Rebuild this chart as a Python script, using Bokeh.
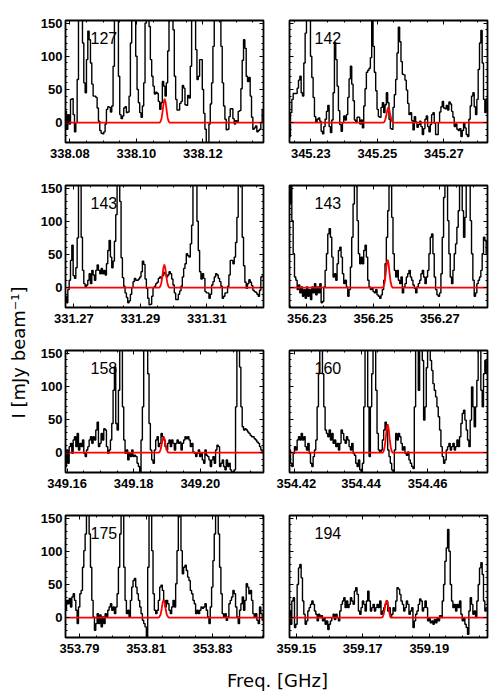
import numpy as np
from bokeh.plotting import figure
from bokeh.models import Range1d, LinearAxis, FixedTicker, PrintfTickFormatter, Label, Spacer
from bokeh.layouts import row, column
from bokeh.embed import file_html
from bokeh.resources import INLINE

# ---------------- data ----------------
DF_GHZ = 0.0004                      # channel width of the sampled spectra
Y_LIM = (-30, 154)
Y_TICKS = [0, 50, 100, 150]
MODEL_DNU_MHZ = [-1.5, -1.2, -0.9, -0.6, -0.3, 0.0, 0.3, 0.6, 0.9, 1.2, 1.5]

P1_NAME = "127"
P1_XLIM = (338.0787, 338.1382)
P1_F0 = 338.0788
P1_TICKS = [338.08, 338.10, 338.12]
P1_I = [17, -10, 12, -2, 35, 36, 12, -14, 0, 65,
        170, 210, 200, 120, 60, 45, 95, 138, 125, 90,
        58, 40, 40, 38, 22, 2, -12, -16, -17, -14,
        -2, 20, 24, 23, 16, 25, 85, 170, 200, 170,
        70, 12, 6, 10, 22, 24, 15, 16, 40, 120,
        200, 215, 200, 100, 50, 30, 15, 8, 25, 60,
        150, 220, 205, 145, 95, 70, 55, 43, 46, 44,
        32, 20, 30, 62, 55, 40, 60, 108, 180, 212,
        200, 140, 70, 35, 19, 19, 29, 32, 56, 52,
        27, 26, 41, 37, 85, 175, 220, 170, 110, 65,
        70, 95, 95, 50, 14, -10, -32, -30, -2, 28,
        60, 115, 180, 215, 220, 205, 170, 115, 60, 25,
        5, -11, -10, 9, 21, 21, 6, -2, 3, 1,
        17, 18, 51, 94, 125, 112, 70, 62, 68, 40,
        8, -10, -8, -5, -14, -12, -10, 0, 20]
P1_MODEL_NU = 338.1085
P1_MODEL = [0, 2, 7, 18, 30, 36, 30, 18, 7, 2, 0]

P2_NAME = "142"
P2_XLIM = (345.2236, 345.2831)
P2_F0 = 345.2237
P2_TICKS = [345.23, 345.25, 345.27]
P2_I = [-21, 15, 35, 44, 44, 44, 52, 64, 70, 45,
        40, 90, 135, 160, 160, 158, 100, 68, 38, 9,
        1, 5, 7, 2, -13, -17, -6, 5, 17, 26,
        -6, -15, 4, 45, 121, 95, 55, 18, -3, -13,
        0, 10, 4, 12, 38, 66, 85, 58, 33, 4,
        0, 8, 8, -2, 4, -8, 25, 51, 76, 79,
        82, 98, 153, 115, 76, 48, 20, 9, 8, 23,
        30, 15, 27, 45, 30, 5, -9, -10, 23, 42,
        65, 105, 144, 122, 92, 73, 72, 64, 49, 29,
        12, 15, 3, -11, 9, 1, -7, -3, 2, -6,
        -18, -9, 5, 10, -6, -14, -3, 12, 15, -1,
        -18, -18, 0, 16, 24, 32, 22, 21, 26, 19,
        31, 28, 17, 8, -6, -2, -10, -12, -9, -21,
        -12, 0, -8, -18, -21, 5, 25, 40, 45, 24,
        12, 35, 80, 120, 139, 90, 35, 15, 36]
P2_MODEL_NU = 345.2533
P2_MODEL = [0, 1, 5, 11, 19, 23, 19, 11, 5, 1, 0]

P3_NAME = "143"
P3_XLIM = (331.2675, 331.3270)
P3_F0 = 331.2676
P3_TICKS = [331.27, 331.29, 331.31]
P3_I = [-13, -23, -3, 11, 41, 64, 18, 14, 30, 75,
        200, 220, 76, 26, 6, 1, 4, 11, 21, 6,
        26, 19, 11, 26, 34, 26, 21, 29, 21, 26,
        19, 36, 56, 71, 46, 30, 40, 70, 110, 200,
        220, 130, 45, 15, 2, -8, -15, -23, -20, -10,
        0, 9, 14, 11, 11, 13, 16, 24, 40, 35,
        13, -1, -16, -26, -25, -13, 0, 2, 6, 8,
        14, 16, 14, 18, 23, 21, 16, 19, 24, 21,
        13, 4, -8, -18, -18, -10, -5, 2, 16, 29,
        36, 51, 48, 46, 66, 94, 180, 220, 200, 100,
        56, 24, 13, 21, 14, -6, -8, -8, -16, -10,
        4, 9, 16, 21, 19, 14, 9, 2, -16, -13,
        -8, -8, 2, 19, 41, 41, 36, 46, 68, 106,
        200, 220, 160, 76, 33, 8, -1, 6, 12, 8,
        3, -4, -6, -7, -10, -13, -4, 16, 18]
P3_MODEL_NU = 331.2972
P3_MODEL = [0, 2, 7, 17, 29, 35, 29, 17, 7, 2, 0]

P4_NAME = "143"
P4_XLIM = (356.2248, 356.2843)
P4_F0 = 356.2249
P4_TICKS = [356.23, 356.25, 356.27]
P4_I = [126, 200, 101, 51, 16, 11, -3, 4, -8, 1,
        -13, -3, -16, 1, -13, -3, -18, 1, -8, 6,
        -11, 1, -8, 6, -23, -21, 1, 26, 51, 81,
        89, 76, 46, 16, 21, 11, 36, 56, 61, 46,
        21, 6, 11, 1, -13, -3, 31, 76, 126, 200,
        200, 101, 51, 36, 46, 36, 56, 64, 46, 11,
        1, -3, -1, -6, -8, -3, -11, -13, -16, -11,
        -3, 11, 36, 76, 116, 200, 200, 106, 51, 26,
        16, 26, 11, 6, 16, -8, 1, 6, 16, 21,
        26, 16, 11, 4, -1, -8, 1, 6, 11, 21,
        26, 16, 6, 16, 26, 51, 76, 81, 51, 16,
        -3, -11, -13, -8, 21, 76, 136, 200, 200, 101,
        51, 16, 6, 26, 51, 66, 91, 116, 200, 200,
        116, 76, 106, 200, 200, 200, 101, 51, 11, -13,
        -8, 6, 11, 16, 26, 51, 76, 71, 51]
P4_MODEL_NU = 356.2543
P4_MODEL = [0, 2, 8, 20, 35, 42, 35, 20, 8, 2, 0]

P5_NAME = "158"
P5_XLIM = (349.1595, 349.2190)
P5_F0 = 349.1596
P5_TICKS = [349.16, 349.18, 349.20]
P5_I = [-21, 4, -16, 9, 14, -1, 19, 24, 9, 29,
        4, 14, 9, 19, -1, -6, 4, 9, 19, 24,
        14, 24, 19, 34, 46, 9, 14, 29, 19, 36,
        34, 9, -1, 4, 19, 44, 94, 129, 44, 34,
        94, 200, 200, 69, 19, -1, 4, -11, -1, -6,
        4, -6, -4, -6, -16, -21, -31, 19, 69, 200,
        200, 200, 119, 44, 4, -11, -16, 4, 19, 24,
        9, 14, 29, 24, 19, 9, 4, 14, 19, 9,
        19, 14, 4, 14, 19, 14, 16, 4, 14, 19,
        24, 21, 24, 19, 9, 14, 1, -1, -6, -1,
        4, -6, -1, -11, -16, 4, -4, -6, -11, -21,
        -11, -6, -16, 4, 11, 9, -21, -16, -11, -21,
        -26, -11, -21, -16, -26, -29, -31, -26, 69, 200,
        200, 129, 69, 39, 34, 36, 34, 31, 29, 26,
        24, 24, 21, 19, 16, 14, 9, 4, -1]
P5_MODEL_NU = 349.1890
P5_MODEL = [0, 1, 5, 12, 20, 24, 20, 12, 5, 1, 0]

P6_NAME = "160"
P6_XLIM = (354.4185, 354.4780)
P6_F0 = 354.4186
P6_TICKS = [354.42, 354.44, 354.46]
P6_I = [4, -16, -21, -1, 9, 4, 19, 24, 19, 29,
        19, 24, 9, 4, 14, -1, -16, -21, -6, 4,
        19, 69, 119, 200, 200, 119, 69, 34, 29, 24,
        34, 19, 29, 14, 19, 9, 14, 4, 14, 34,
        29, 19, 14, 24, 19, 9, 4, 14, -1, -4,
        -16, -21, -11, -26, -29, -16, 69, 200, 200, 69,
        -6, 69, 119, 200, 200, 94, 29, 4, 1, 4,
        19, 34, 46, 34, 4, -6, -16, -26, -31, 4,
        29, 19, 29, 24, 14, 4, 9, -1, -4, 1,
        -11, -16, -21, -24, 69, 200, 200, 94, 200, 200,
        139, 49, 69, 128, 200, 200, 139, 124, 104, 94,
        84, 69, 54, 34, 9, -6, -16, -11, 4, 9,
        14, 4, 9, 14, 4, 9, 19, 9, 24, 44,
        59, 64, 49, 34, 19, 9, 49, 99, 69, 39,
        69, 109, 200, 200, 94, 69, 119, 139, 119]
P6_MODEL_NU = 354.4480
P6_MODEL = [0, 2, 9, 21, 36, 43, 36, 21, 9, 2, 0]

P7_NAME = "175"
P7_XLIM = (353.7858, 353.8453)
P7_F0 = 353.7859
P7_TICKS = [353.79, 353.81, 353.83]
P7_I = [11, 26, 21, 29, 16, 31, 36, 26, 11, -9,
        16, 36, 41, 76, 101, 126, 200, 200, 126, 76,
        26, 1, -19, -9, 6, -9, 4, -14, 1, -9,
        6, 1, 11, 16, 21, 11, 16, 6, 16, 36,
        76, 126, 200, 200, 76, 26, 6, 11, 1, 26,
        46, 56, 59, 46, 36, 26, 16, 6, -4, -9,
        -14, -29, 76, 200, 200, 101, 36, 11, 6, 11,
        26, 46, 49, 41, 26, 16, 26, 21, 11, 6,
        16, 26, 16, 51, 101, 200, 200, 101, 66, 76,
        79, 71, 61, 56, 41, 36, 26, 21, 6, 11,
        6, 11, 16, 14, 16, 21, 11, 1, -9, 16,
        46, 86, 126, 200, 200, 126, 76, 36, 6, 1,
        6, -4, 1, 21, 26, 31, 41, 36, 16, 1,
        -9, 11, 21, 31, 11, 26, 51, 46, 36, 41,
        26, 6, 1, 6, -4, -9, 16, 6, -4]
P7_MODEL_NU = 353.8153
P7_MODEL = [0, 2, 5, 13, 23, 27, 23, 13, 5, 2, 0]

P8_NAME = "194"
P8_XLIM = (359.1480, 359.2075)
P8_F0 = 359.1481
P8_TICKS = [359.15, 359.17, 359.19]
P8_I = [10, -10, 25, 30, -15, -10, 50, 75, 80, 60,
        25, 5, -10, -5, 10, 15, 20, 25, 20, 10,
        5, -5, 5, 0, 3, -5, 0, -10, -5, -18,
        -10, -5, 0, 5, -3, 5, 0, -5, 10, 20,
        25, 30, 15, 25, 15, 20, 30, 25, 20, 40,
        45, 35, 10, 5, 15, 25, 20, 10, 25, 40,
        25, 10, 15, 20, 10, 15, 20, 15, 25, 5,
        10, 15, 20, 25, 10, 15, 0, 5, 15, 10,
        25, 45, 43, 35, 25, 20, 10, 15, 25, 20,
        5, 10, 15, -15, -5, 5, 10, 20, 28, 25,
        10, 15, 25, 15, -5, 0, -8, -5, -10, -3,
        -8, 0, -5, 3, 0, 25, 50, 85, 105, 133,
        100, 50, 25, 15, 20, 10, 20, 15, 25, 5,
        -5, 0, -10, -15, -25, 10, 30, 20, 5, 10,
        0, 25, 50, 75, 83, 65, 25, 10, 15]
P8_MODEL_NU = 359.1772
P8_MODEL = [0, 1, 5, 13, 22, 26, 22, 13, 5, 1, 0]

# ---------------- styling / layout ----------------
FRAME_W, FRAME_H = 198, 122
TICK_FONT = "Liberation Sans"


def make_axis(ticker, labelled, is_x):
    ax = LinearAxis(ticker=ticker, axis_line_color=None,
                    major_tick_in=4, major_tick_out=0,
                    minor_tick_in=2, minor_tick_out=0,
                    major_tick_line_color="black", minor_tick_line_color="black",
                    major_tick_line_width=1, minor_tick_line_width=1)
    if labelled:
        ax.formatter = PrintfTickFormatter(format="%.2f" if is_x else "%d")
        ax.major_label_text_font = TICK_FONT
        ax.major_label_text_font_style = "bold"
        ax.major_label_text_font_size = "13px"
        ax.major_label_text_color = "black"
        ax.major_label_standoff = 6 if is_x else 3
    else:
        ax.major_label_text_font_size = "1px"
        ax.major_label_text_color = None
        ax.major_label_standoff = 0
    return ax


def make_panel(name, xlim, f0, inten, ticks, mnu, mvals, left):
    p = figure(width=(33 + FRAME_W + 13) if left else (13 + FRAME_W + 5), height=12 + FRAME_H + 31,
               x_range=Range1d(*xlim), y_range=Range1d(*Y_LIM),
               output_backend="svg", toolbar_location=None,
               x_axis_type=None, y_axis_type=None,
               min_border_left=33 if left else 13, min_border_right=13 if left else 5,
               min_border_top=12, min_border_bottom=31,
               background_fill_color="white", border_fill_color="white",
               outline_line_color="black", outline_line_width=1.8)
    minor_x = list(np.round(np.arange(ticks[0] - 0.02, xlim[1] + 0.0001, 0.005), 4))
    minor_y = list(range(-30, 155, 10))
    xt = FixedTicker(ticks=ticks, minor_ticks=minor_x)
    yt = FixedTicker(ticks=Y_TICKS, minor_ticks=minor_y)
    p.add_layout(make_axis(xt, True, True), "below")
    p.add_layout(make_axis(xt, False, True), "above")
    p.add_layout(make_axis(yt, left, False), "left")
    p.add_layout(make_axis(yt, False, False), "right")

    freq = f0 + DF_GHZ * np.arange(len(inten))
    p.step(freq, inten, mode="center", line_color="black", line_width=1.4)
    mx = [xlim[0]] + [mnu + d / 1000.0 for d in MODEL_DNU_MHZ] + [xlim[1]]
    my = [0] + list(mvals) + [0]
    p.line(mx, my, line_color="#ff0000", line_width=1.8)

    lx = xlim[0] + (xlim[1] - xlim[0]) * 25 / FRAME_W
    ly = Y_LIM[1] - (Y_LIM[1] - Y_LIM[0]) * 17 / FRAME_H
    p.add_layout(Label(x=lx, y=ly, text=name, text_font="Liberation Sans",
                       text_font_size="16px", text_color="black",
                       text_align="left", text_baseline="alphabetic"))
    return p


panels = [
    make_panel(P1_NAME, P1_XLIM, P1_F0, P1_I, P1_TICKS, P1_MODEL_NU, P1_MODEL, True),
    make_panel(P2_NAME, P2_XLIM, P2_F0, P2_I, P2_TICKS, P2_MODEL_NU, P2_MODEL, False),
    make_panel(P3_NAME, P3_XLIM, P3_F0, P3_I, P3_TICKS, P3_MODEL_NU, P3_MODEL, True),
    make_panel(P4_NAME, P4_XLIM, P4_F0, P4_I, P4_TICKS, P4_MODEL_NU, P4_MODEL, False),
    make_panel(P5_NAME, P5_XLIM, P5_F0, P5_I, P5_TICKS, P5_MODEL_NU, P5_MODEL, True),
    make_panel(P6_NAME, P6_XLIM, P6_F0, P6_I, P6_TICKS, P6_MODEL_NU, P6_MODEL, False),
    make_panel(P7_NAME, P7_XLIM, P7_F0, P7_I, P7_TICKS, P7_MODEL_NU, P7_MODEL, True),
    make_panel(P8_NAME, P8_XLIM, P8_F0, P8_I, P8_TICKS, P8_MODEL_NU, P8_MODEL, False),
]

ylab = figure(width=32, height=660, x_range=Range1d(0, 32), y_range=Range1d(0, 660),
              output_backend="svg", toolbar_location=None,
              x_axis_type=None, y_axis_type=None, min_border=0, outline_line_color=None)
ylab.add_layout(Label(x=18, y=316, text="I [mJy beam\u207b\u00b9]", angle=90, angle_units="deg",
                      text_align="center", text_baseline="middle",
                      text_font="DejaVu Sans", text_font_size="18px", text_color="black"))

xlab = figure(width=492, height=24, x_range=Range1d(0, 492), y_range=Range1d(0, 24),
              output_backend="svg", toolbar_location=None,
              x_axis_type=None, y_axis_type=None, min_border=0, outline_line_color=None)
xlab.add_layout(Label(x=277, y=12, text="Freq. [GHz]", text_align="center", text_baseline="middle",
                      text_font="DejaVu Sans", text_font_size="18px", text_color="black"))

grid = column(row(panels[0], panels[1]), row(panels[2], panels[3]),
              row(panels[4], panels[5]), row(panels[6], panels[7]))
layout = column(Spacer(width=492, height=8), row(ylab, grid), xlab)

open("out.html", "w").write(file_html(layout, INLINE))
